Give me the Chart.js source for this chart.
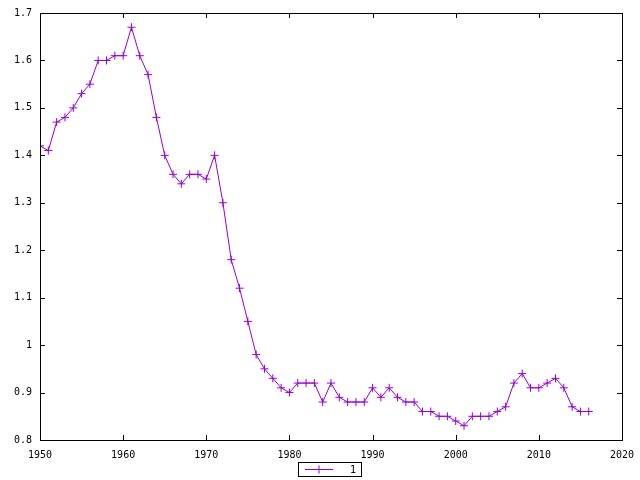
<!DOCTYPE html>
<html>
<head>
<meta charset="utf-8">
<script src="https://cdn.jsdelivr.net/npm/chart.js@4/dist/chart.umd.min.js"></script>
<style>
  html, body { margin: 0; padding: 0; background: #fff; }
  #wrap { width: 640px; height: 480px; }
</style>
</head>
<body>
<div id="wrap"><canvas id="c" width="640" height="480"></canvas></div>
<script>
const years = [];
for (let y = 1950; y <= 2016; y++) years.push(y);

const values = [
  1.42, 1.41, 1.47, 1.48, 1.50, 1.53, 1.55, 1.60, 1.60, 1.61,
  1.61, 1.67, 1.61, 1.57, 1.48, 1.40, 1.36, 1.34, 1.36, 1.36,
  1.35, 1.40, 1.30, 1.18, 1.12, 1.05, 0.98, 0.95, 0.93, 0.91,
  0.90, 0.92, 0.92, 0.92, 0.88, 0.92, 0.89, 0.88, 0.88, 0.88,
  0.91, 0.89, 0.91, 0.89, 0.88, 0.88, 0.86, 0.86, 0.85, 0.85,
  0.84, 0.83, 0.85, 0.85, 0.85, 0.86, 0.87, 0.92, 0.94, 0.91,
  0.91, 0.92, 0.93, 0.91, 0.87, 0.86, 0.86
];

const xTicks = [1950, 1960, 1970, 1980, 1990, 2000, 2010, 2020];
const yTicks = [0.8, 0.9, 1.0, 1.1, 1.2, 1.3, 1.4, 1.5, 1.6, 1.7];
const seriesLabel = '1';

const LINE = '#9400d3';
const FONT = "'DejaVu Sans Mono', monospace";

// gnuplot-like frame with inward ticks on all four sides
const framePlugin = {
  id: 'frame',
  afterDraw(chart) {
    const { ctx, chartArea: a, scales } = chart;
    const T = 5;
    ctx.save();
    ctx.strokeStyle = '#000';
    ctx.lineWidth = 1;
    ctx.beginPath();
    xTicks.forEach(v => {
      const px = Math.round(scales.x.getPixelForValue(v)) + 0.5;
      ctx.moveTo(px, a.bottom); ctx.lineTo(px, a.bottom - T);
      ctx.moveTo(px, a.top);    ctx.lineTo(px, a.top + T);
    });
    yTicks.forEach(v => {
      const py = Math.round(scales.y.getPixelForValue(v)) + 0.5;
      ctx.moveTo(a.left, py);  ctx.lineTo(a.left + T, py);
      ctx.moveTo(a.right, py); ctx.lineTo(a.right - T, py);
    });
    ctx.stroke();
    ctx.strokeRect(Math.round(a.left) + 0.5, Math.round(a.top) + 0.5,
                   Math.round(a.right - a.left), Math.round(a.bottom - a.top));

    // legend box
    const bx = 298.5, by = 462.5, bw = 63, bh = 14;
    ctx.strokeRect(bx, by, bw, bh);
    const ly = by + bh / 2;
    ctx.strokeStyle = LINE;
    ctx.beginPath();
    ctx.moveTo(305, ly); ctx.lineTo(333, ly);
    ctx.moveTo(319, ly - 4); ctx.lineTo(319, ly + 4);
    ctx.stroke();
    ctx.fillStyle = '#000';
    ctx.font = '10px ' + FONT;
    ctx.textAlign = 'right';
    ctx.textBaseline = 'middle';
    ctx.fillText(seriesLabel, 356, ly + 1);
    ctx.restore();
  }
};

new Chart(document.getElementById('c'), {
  type: 'line',
  data: {
    labels: years,
    datasets: [{
      label: seriesLabel,
      data: years.map((y, i) => ({ x: y, y: values[i] })),
      borderColor: LINE,
      backgroundColor: LINE,
      borderWidth: 1,
      tension: 0,
      pointStyle: 'cross',
      pointRadius: 4,
      pointBorderWidth: 1,
      pointBorderColor: LINE,
      fill: false,
    }]
  },
  options: {
    responsive: false,
    animation: false,
    layout: { padding: { top: 13, right: 18, left: 0, bottom: 0 } },
    plugins: { legend: { display: false }, tooltip: { enabled: false } },
    scales: {
      x: {
        type: 'linear',
        min: 1950, max: 2020,
        afterBuildTicks: s => { s.ticks = xTicks.map(v => ({ value: v })); },
        afterFit: s => { s.height = 40; s.paddingLeft = 0; s.paddingRight = 0; },
        grid: { display: false, drawTicks: false },
        border: { display: false },
        ticks: { color: '#000', font: { family: FONT, size: 10 }, padding: 9, maxRotation: 0,
                 callback: v => String(v) },
      },
      y: {
        min: 0.8, max: 1.7,
        afterBuildTicks: s => { s.ticks = yTicks.map(v => ({ value: v })); },
        afterFit: s => { s.width = 40; s.paddingTop = 0; s.paddingBottom = 0; },
        grid: { display: false, drawTicks: false },
        border: { display: false },
        ticks: { color: '#000', font: { family: FONT, size: 10 }, padding: 8,
                 callback: v => String(Math.round(v * 10) / 10) },
      }
    }
  },
  plugins: [framePlugin]
});
</script>
</body>
</html>
